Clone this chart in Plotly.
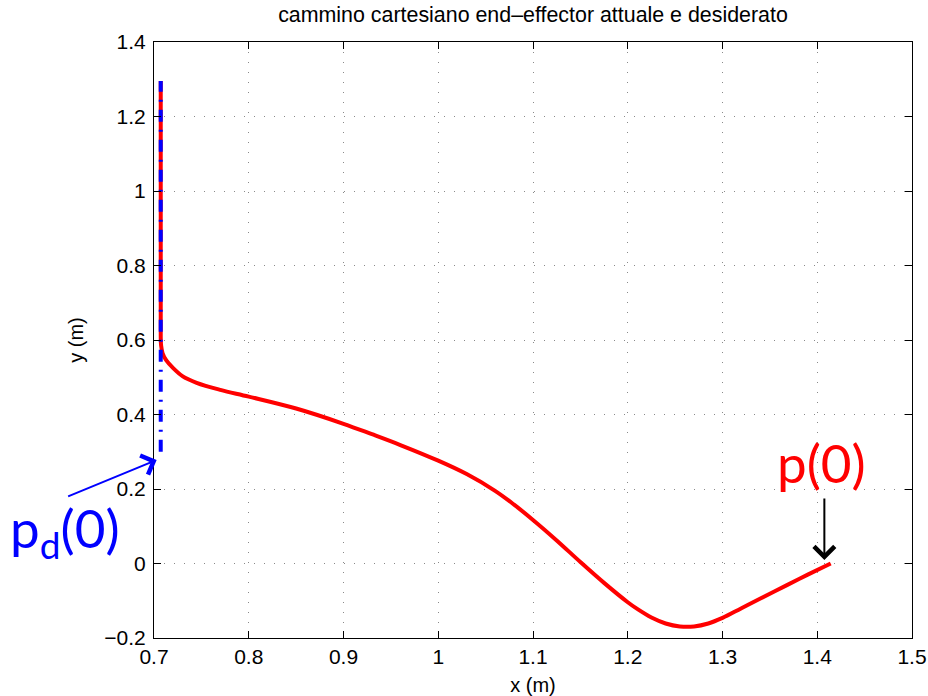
import plotly.graph_objects as go

# actual end-effector path (red), from p(0) to the end
actual_x = [1.4142, 1.390, 1.368, 1.340, 1.320, 1.300, 1.285, 1.270, 1.255, 1.240,
            1.225, 1.210, 1.200, 1.175, 1.150, 1.125, 1.100, 1.080, 1.060, 1.030,
            1.000, 0.960, 0.930, 0.900, 0.850, 0.800, 0.770, 0.745, 0.730, 0.720,
            0.713, 0.709, 0.7075, 0.7071, 0.7071]
actual_y = [0.000, -0.030, -0.058, -0.094, -0.120, -0.146, -0.161, -0.169, -0.169, -0.161,
            -0.145, -0.122, -0.104, -0.052, 0.004, 0.062, 0.117, 0.158, 0.195, 0.240,
            0.276, 0.318, 0.347, 0.375, 0.416, 0.448, 0.466, 0.485, 0.503, 0.525,
            0.545, 0.565, 0.585, 0.610, 1.295]

# desired path (blue dash-dot)
desired_x = [0.7071, 0.7071]
desired_y = [0.30, 1.295]

x_ticks = [0.7, 0.8, 0.9, 1.0, 1.1, 1.2, 1.3, 1.4, 1.5]
y_ticks = [-0.2, 0, 0.2, 0.4, 0.6, 0.8, 1.0, 1.2, 1.4]

title_text = "cammino cartesiano end\u2013effector attuale e desiderato"

FONT = "Liberation Sans, Arial"

fig = go.Figure()
fig.add_trace(go.Scatter(x=actual_x, y=actual_y, mode="lines",
                         line=dict(color="#ff0000", width=4, shape="spline", smoothing=1),
                         showlegend=False))
fig.add_trace(go.Scatter(x=desired_x, y=desired_y, mode="lines",
                         line=dict(color="#0000ff", width=4, dash="12px,8px,2px,8px"),
                         showlegend=False))

axis_common = dict(showgrid=True, gridcolor="#8a8a8a", griddash="1px,9px", gridwidth=1,
                   ticks="inside", ticklen=7, tickcolor="black", tickwidth=1,
                   showline=True, linecolor="black", linewidth=1, mirror="ticks",
                   zeroline=False, automargin=False,
                   tickfont=dict(family=FONT, size=21, color="black"))

fig.update_xaxes(range=[0.7, 1.5], tickvals=x_ticks,
                 title=dict(text="x (m)", font=dict(family=FONT, size=20, color="black"),
                            standoff=12),
                 **axis_common)
fig.update_yaxes(range=[-0.2, 1.4], tickvals=y_ticks, ticklabelstandoff=3,
                 title=dict(text="y (m)", font=dict(family=FONT, size=20, color="black"),
                            standoff=15),
                 **axis_common)

fig.add_annotation(x=1.405, y=0.270, xref="x", yref="y", text="p(0)", showarrow=False,
                   font=dict(family="Lato", size=53, color="#ff0000"),
                   xanchor="center", yanchor="middle")
fig.add_annotation(x=1.4075, y=0.0093, xref="x", yref="y", text="", showarrow=True,
                   ax=0, ay=-63, arrowhead=4, arrowwidth=2, arrowsize=2, arrowcolor="black")
fig.add_annotation(x=-0.1174, y=0.179, xref="paper", yref="paper", text="p<sub>d</sub>(0)",
                   showarrow=False,
                   font=dict(family="Lato", size=53, color="#0000ff"),
                   xanchor="center", yanchor="middle")
fig.add_annotation(x=0.7028, y=0.278, xref="x", yref="y", text="", showarrow=True,
                   ax=-90, ay=37, arrowhead=4, arrowwidth=2, arrowsize=2, arrowcolor="#0000ff")

fig.update_layout(width=928, height=696,
                  margin=dict(l=154, r=16, t=42, b=58),
                  paper_bgcolor="white", plot_bgcolor="white",
                  title=dict(text=title_text, x=0.5, xref="paper", y=1 - 15 / 696, yanchor="middle",
                             font=dict(family=FONT, size=21.4, color="black")))

fig.write_html("out.html", config={"displayModeBar": False},
               post_script="document.body.style.margin='0';document.body.style.overflow='hidden';")
